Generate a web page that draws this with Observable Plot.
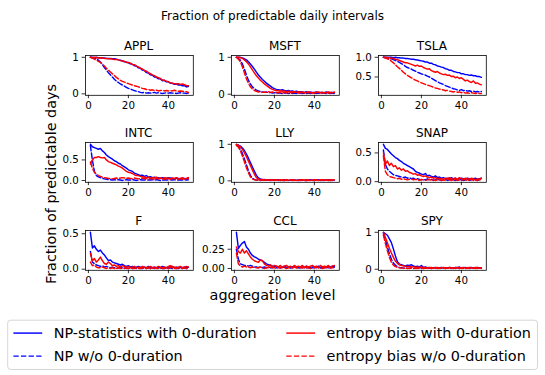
<!DOCTYPE html>
<html><head><meta charset="utf-8">
<script src="https://cdn.jsdelivr.net/npm/d3@7"></script>
<script src="https://cdn.jsdelivr.net/npm/@observablehq/plot@0.6"></script>
<style>
html,body{margin:0;padding:0;background:#fff;}
#fig{position:relative;width:545px;height:375px;overflow:hidden;font-family:"DejaVu Sans",sans-serif;}
.panel{position:absolute;}
#overlay{position:absolute;left:0;top:0;}
</style></head><body><div id="fig"></div>
<script>
// ---------------- data ----------------
const levels = [1,2,3,4,5,6,7,8,9,10,11,12,13,14,15,16,17,18,19,20,21,22,23,24,25,26,27,28,29,30,31,32,33,34,35,36,37,38,39,40,41,42,43,44,45,46,47,48,49,50];
const tickers = ["APPL","MSFT","TSLA","INTC","LLY","SNAP","F","CCL","SPY"];
const seriesNames = ["NP-statistics with 0-duration","NP w/o 0-duration","entropy bias with 0-duration","entropy bias w/o 0-duration"];
const xTickValues = [0,20,40];
const yTickValues = [[0,1],[0,1],[0.5,1.0],[0,0.5],[0,1],[0,0.5],[0,0.5],[0,0.25],[0,1]];
const yTickFormats = [".0f",".0f",".1f",".1f",".0f",".1f",".1f",".2f",".0f"];
const title = "Fraction of predictable daily intervals";
const xLabel = "aggregation level";
const yLabel = "Fraction of predictable days";

const APPL_np  = [1.00,1.00,0.99,1.00,0.99,0.99,0.98,0.98,0.97,0.97,0.97,0.96,0.96,0.95,0.93,0.92,0.90,0.88,0.87,0.85,0.82,0.81,0.77,0.76,0.71,0.70,0.65,0.64,0.58,0.57,0.52,0.51,0.46,0.45,0.41,0.41,0.36,0.37,0.33,0.33,0.29,0.29,0.26,0.27,0.24,0.25,0.22,0.23,0.19,0.20];
const APPL_np0 = [1.00,0.99,0.98,0.95,0.92,0.87,0.80,0.72,0.65,0.58,0.52,0.46,0.40,0.35,0.31,0.27,0.24,0.21,0.18,0.15,0.13,0.11,0.09,0.07,0.06,0.04,0.03,0.04,0.02,0.03,0.02,0.03,0.04,0.02,0.03,0.02,0.01,0.02,0.03,0.02,0.03,0.02,0.02,0.01,0.02,0.03,0.02,0.02,0.01,0.02];
const APPL_eb  = [1.00,0.99,1.00,0.99,0.98,0.99,0.98,0.97,0.97,0.96,0.96,0.95,0.94,0.94,0.93,0.91,0.90,0.89,0.86,0.86,0.84,0.80,0.80,0.76,0.74,0.70,0.68,0.64,0.62,0.58,0.55,0.52,0.50,0.46,0.44,0.42,0.38,0.37,0.35,0.33,0.30,0.29,0.28,0.27,0.28,0.26,0.27,0.25,0.23,0.22];
const APPL_eb0 = [1.00,0.98,0.95,0.92,0.89,0.86,0.81,0.76,0.70,0.65,0.60,0.55,0.50,0.45,0.41,0.37,0.34,0.32,0.30,0.28,0.26,0.24,0.22,0.21,0.19,0.17,0.15,0.14,0.12,0.12,0.10,0.11,0.09,0.10,0.08,0.09,0.10,0.08,0.09,0.08,0.09,0.08,0.10,0.08,0.07,0.08,0.07,0.06,0.06,0.04];

const MSFT_np  = [1.00,1.00,1.00,0.98,0.96,0.93,0.88,0.82,0.75,0.68,0.60,0.52,0.46,0.40,0.35,0.30,0.26,0.22,0.18,0.15,0.13,0.12,0.11,0.12,0.10,0.09,0.10,0.08,0.09,0.07,0.08,0.06,0.07,0.06,0.05,0.07,0.05,0.06,0.04,0.05,0.06,0.04,0.05,0.05,0.04,0.06,0.05,0.04,0.05,0.04];
const MSFT_np0 = [1.00,0.97,0.92,0.82,0.68,0.52,0.38,0.28,0.20,0.15,0.11,0.09,0.07,0.06,0.05,0.06,0.04,0.05,0.03,0.04,0.03,0.04,0.03,0.02,0.03,0.04,0.02,0.03,0.02,0.03,0.02,0.03,0.04,0.02,0.03,0.02,0.03,0.02,0.04,0.03,0.02,0.03,0.02,0.04,0.03,0.02,0.03,0.02,0.03,0.02];
const MSFT_eb  = [1.00,1.00,0.99,0.97,0.93,0.88,0.82,0.74,0.66,0.58,0.50,0.44,0.38,0.33,0.28,0.24,0.20,0.16,0.13,0.11,0.10,0.09,0.10,0.08,0.09,0.07,0.08,0.06,0.07,0.06,0.05,0.07,0.05,0.06,0.04,0.05,0.06,0.04,0.05,0.04,0.05,0.06,0.04,0.05,0.04,0.05,0.03,0.05,0.04,0.05];
const MSFT_eb0 = [1.00,0.95,0.88,0.74,0.58,0.42,0.30,0.20,0.14,0.10,0.08,0.06,0.07,0.05,0.06,0.05,0.07,0.05,0.06,0.04,0.05,0.04,0.06,0.03,0.05,0.04,0.03,0.05,0.04,0.06,0.04,0.03,0.05,0.04,0.03,0.05,0.04,0.06,0.03,0.04,0.05,0.03,0.04,0.05,0.03,0.04,0.06,0.04,0.05,0.06];

const TSLA_np  = [1.00,1.00,1.00,1.00,1.00,0.99,1.00,0.99,0.99,0.98,0.98,0.97,0.97,0.96,0.95,0.95,0.94,0.93,0.92,0.91,0.90,0.88,0.88,0.85,0.85,0.82,0.81,0.78,0.77,0.75,0.74,0.71,0.70,0.67,0.67,0.64,0.63,0.61,0.61,0.58,0.58,0.56,0.56,0.54,0.55,0.53,0.53,0.51,0.51,0.49];
const TSLA_np0 = [1.00,0.99,0.98,0.97,0.96,0.94,0.92,0.90,0.87,0.84,0.81,0.77,0.74,0.72,0.70,0.67,0.65,0.62,0.60,0.58,0.56,0.55,0.52,0.50,0.47,0.44,0.41,0.38,0.35,0.33,0.31,0.28,0.26,0.24,0.22,0.20,0.19,0.17,0.16,0.18,0.15,0.16,0.14,0.15,0.13,0.14,0.12,0.13,0.12,0.13];
const TSLA_eb  = [1.00,1.00,0.99,0.99,0.98,0.97,0.95,0.94,0.92,0.90,0.88,0.86,0.86,0.84,0.82,0.80,0.78,0.80,0.77,0.78,0.74,0.72,0.70,0.71,0.66,0.64,0.62,0.64,0.60,0.58,0.56,0.57,0.54,0.55,0.51,0.52,0.48,0.50,0.46,0.48,0.44,0.40,0.42,0.38,0.36,0.40,0.34,0.35,0.32,0.30];
const TSLA_eb0 = [1.00,0.98,0.96,0.94,0.90,0.86,0.81,0.76,0.72,0.67,0.62,0.58,0.54,0.51,0.48,0.45,0.42,0.40,0.37,0.35,0.33,0.31,0.29,0.28,0.26,0.24,0.22,0.21,0.19,0.18,0.17,0.15,0.16,0.14,0.13,0.12,0.13,0.11,0.12,0.10,0.11,0.09,0.10,0.08,0.10,0.09,0.08,0.09,0.08,0.08];

const INTC_np  = [0.88,0.82,0.80,0.78,0.76,0.78,0.72,0.68,0.62,0.58,0.55,0.52,0.48,0.46,0.42,0.40,0.36,0.33,0.30,0.26,0.24,0.22,0.18,0.16,0.14,0.12,0.13,0.10,0.12,0.08,0.09,0.07,0.08,0.06,0.07,0.05,0.07,0.06,0.05,0.07,0.06,0.05,0.04,0.06,0.05,0.04,0.06,0.05,0.04,0.06];
const INTC_np0 = [0.85,0.50,0.22,0.12,0.09,0.07,0.05,0.04,0.03,0.02,0.02,0.01,0.02,0.01,0.02,0.01,0.00,0.01,0.02,0.01,0.01,0.02,0.01,0.00,0.01,0.02,0.01,0.01,0.02,0.01,0.01,0.02,0.01,0.02,0.01,0.00,0.01,0.02,0.01,0.01,0.02,0.01,0.02,0.01,0.01,0.02,0.01,0.02,0.01,0.02];
const INTC_eb  = [0.40,0.50,0.56,0.56,0.58,0.56,0.55,0.56,0.50,0.46,0.44,0.42,0.40,0.38,0.35,0.33,0.30,0.26,0.22,0.20,0.19,0.17,0.14,0.12,0.12,0.10,0.09,0.08,0.06,0.08,0.05,0.07,0.06,0.08,0.05,0.06,0.04,0.07,0.05,0.06,0.04,0.06,0.05,0.07,0.04,0.05,0.06,0.04,0.05,0.07];
const INTC_eb0 = [0.45,0.30,0.20,0.15,0.12,0.10,0.08,0.07,0.06,0.05,0.05,0.04,0.05,0.06,0.05,0.06,0.07,0.06,0.05,0.06,0.05,0.04,0.06,0.05,0.04,0.05,0.06,0.04,0.05,0.03,0.05,0.04,0.03,0.05,0.04,0.06,0.04,0.03,0.05,0.04,0.03,0.05,0.04,0.03,0.04,0.05,0.03,0.04,0.05,0.04];

const LLY_np  = [1.00,0.98,0.95,0.90,0.83,0.73,0.62,0.50,0.38,0.26,0.15,0.08,0.05,0.03,0.04,0.02,0.03,0.02,0.03,0.02,0.02,0.03,0.01,0.02,0.03,0.02,0.01,0.02,0.03,0.02,0.02,0.01,0.03,0.02,0.02,0.01,0.02,0.03,0.02,0.01,0.02,0.03,0.02,0.01,0.02,0.02,0.03,0.01,0.02,0.02];
const LLY_np0 = [0.98,0.94,0.86,0.75,0.60,0.44,0.28,0.15,0.07,0.04,0.02,0.03,0.01,0.02,0.02,0.01,0.02,0.01,0.02,0.01,0.02,0.01,0.02,0.01,0.01,0.02,0.01,0.02,0.01,0.02,0.01,0.02,0.01,0.02,0.01,0.01,0.02,0.01,0.02,0.01,0.02,0.01,0.01,0.02,0.01,0.02,0.01,0.02,0.01,0.02];
const LLY_eb  = [1.00,0.97,0.93,0.86,0.77,0.66,0.54,0.42,0.30,0.18,0.09,0.05,0.03,0.04,0.02,0.03,0.02,0.03,0.02,0.03,0.02,0.02,0.03,0.02,0.01,0.03,0.02,0.02,0.03,0.02,0.01,0.02,0.03,0.02,0.02,0.03,0.01,0.02,0.02,0.03,0.02,0.01,0.03,0.02,0.02,0.03,0.02,0.01,0.02,0.03];
const LLY_eb0 = [0.97,0.92,0.82,0.68,0.52,0.36,0.22,0.11,0.05,0.03,0.02,0.01,0.02,0.03,0.02,0.01,0.02,0.03,0.02,0.01,0.02,0.02,0.01,0.03,0.02,0.01,0.02,0.02,0.03,0.01,0.02,0.01,0.02,0.03,0.02,0.01,0.02,0.02,0.01,0.03,0.02,0.01,0.02,0.03,0.02,0.02,0.01,0.03,0.02,0.01];

const SNAP_np  = [0.65,0.58,0.56,0.52,0.48,0.45,0.42,0.40,0.37,0.35,0.32,0.30,0.28,0.26,0.24,0.22,0.18,0.16,0.15,0.13,0.12,0.14,0.10,0.11,0.09,0.08,0.10,0.07,0.08,0.06,0.07,0.05,0.06,0.05,0.07,0.05,0.06,0.04,0.05,0.06,0.05,0.04,0.06,0.05,0.04,0.05,0.06,0.04,0.05,0.06];
const SNAP_np0 = [0.55,0.30,0.22,0.18,0.15,0.12,0.11,0.10,0.09,0.08,0.07,0.08,0.06,0.07,0.05,0.06,0.04,0.05,0.04,0.03,0.04,0.03,0.05,0.03,0.04,0.02,0.03,0.04,0.03,0.02,0.03,0.04,0.02,0.03,0.04,0.03,0.02,0.03,0.04,0.03,0.02,0.03,0.04,0.02,0.03,0.04,0.03,0.02,0.03,0.05];
const SNAP_eb  = [0.50,0.30,0.36,0.28,0.32,0.26,0.28,0.22,0.24,0.20,0.22,0.18,0.19,0.16,0.15,0.13,0.14,0.11,0.12,0.10,0.09,0.10,0.08,0.07,0.08,0.06,0.07,0.05,0.06,0.05,0.04,0.06,0.05,0.07,0.04,0.05,0.06,0.04,0.07,0.05,0.04,0.06,0.05,0.04,0.06,0.05,0.03,0.05,0.04,0.06];
const SNAP_eb0 = [0.45,0.18,0.12,0.09,0.08,0.07,0.06,0.05,0.06,0.04,0.05,0.04,0.03,0.04,0.05,0.03,0.04,0.03,0.02,0.04,0.03,0.02,0.03,0.04,0.02,0.03,0.02,0.03,0.04,0.02,0.03,0.02,0.04,0.03,0.02,0.03,0.04,0.02,0.03,0.02,0.04,0.03,0.02,0.03,0.04,0.02,0.03,0.02,0.04,0.03];

const F_np  = [0.52,0.30,0.33,0.28,0.25,0.27,0.23,0.20,0.16,0.12,0.13,0.10,0.09,0.08,0.07,0.06,0.07,0.05,0.04,0.05,0.03,0.04,0.02,0.03,0.04,0.03,0.02,0.03,0.02,0.04,0.03,0.02,0.03,0.02,0.03,0.02,0.04,0.03,0.02,0.03,0.04,0.03,0.02,0.03,0.02,0.03,0.02,0.03,0.02,0.03];
const F_np0 = [0.25,0.10,0.08,0.06,0.05,0.04,0.05,0.03,0.04,0.03,0.02,0.03,0.02,0.01,0.02,0.03,0.02,0.01,0.02,0.01,0.02,0.01,0.02,0.01,0.02,0.01,0.01,0.02,0.01,0.02,0.01,0.02,0.01,0.02,0.01,0.02,0.01,0.01,0.02,0.01,0.02,0.01,0.02,0.01,0.01,0.02,0.01,0.02,0.01,0.01];
const F_eb  = [0.22,0.12,0.15,0.10,0.13,0.17,0.12,0.08,0.07,0.10,0.08,0.05,0.06,0.04,0.05,0.03,0.05,0.04,0.03,0.04,0.02,0.03,0.04,0.02,0.03,0.02,0.04,0.03,0.02,0.03,0.04,0.02,0.03,0.02,0.04,0.03,0.02,0.03,0.02,0.04,0.05,0.04,0.03,0.02,0.03,0.04,0.02,0.03,0.04,0.03];
const F_eb0 = [0.10,0.05,0.06,0.03,0.02,0.02,0.03,0.02,0.01,0.02,0.01,0.02,0.01,0.01,0.02,0.01,0.01,0.02,0.01,0.01,0.02,0.01,0.01,0.02,0.01,0.01,0.02,0.01,0.01,0.02,0.01,0.01,0.02,0.01,0.01,0.02,0.01,0.01,0.02,0.01,0.03,0.02,0.01,0.01,0.02,0.01,0.01,0.02,0.01,0.01];

const CCL_np  = [0.47,0.26,0.30,0.33,0.35,0.28,0.25,0.20,0.17,0.15,0.14,0.12,0.11,0.10,0.08,0.06,0.05,0.04,0.03,0.02,0.03,0.02,0.01,0.02,0.03,0.01,0.02,0.01,0.02,0.03,0.01,0.02,0.01,0.02,0.01,0.03,0.02,0.01,0.02,0.01,0.02,0.03,0.01,0.02,0.01,0.02,0.01,0.02,0.03,0.02];
const CCL_np0 = [0.25,0.12,0.06,0.05,0.04,0.04,0.03,0.04,0.03,0.02,0.02,0.01,0.02,0.01,0.02,0.01,0.02,0.01,0.01,0.02,0.01,0.02,0.01,0.01,0.02,0.01,0.02,0.01,0.01,0.02,0.01,0.01,0.02,0.01,0.02,0.01,0.01,0.02,0.01,0.02,0.01,0.02,0.01,0.01,0.02,0.01,0.02,0.01,0.01,0.02];
const CCL_eb  = [0.28,0.22,0.20,0.25,0.20,0.23,0.19,0.15,0.12,0.10,0.09,0.08,0.11,0.10,0.06,0.04,0.03,0.05,0.02,0.04,0.03,0.02,0.04,0.01,0.03,0.04,0.02,0.03,0.01,0.04,0.02,0.03,0.02,0.04,0.01,0.03,0.02,0.03,0.04,0.02,0.03,0.01,0.04,0.02,0.03,0.02,0.04,0.01,0.03,0.04];
const CCL_eb0 = [0.20,0.06,0.03,0.02,0.03,0.02,0.02,0.01,0.02,0.01,0.01,0.01,0.02,0.01,0.00,0.01,0.01,0.02,0.01,0.01,0.00,0.01,0.01,0.02,0.01,0.00,0.01,0.01,0.01,0.02,0.01,0.00,0.01,0.01,0.02,0.01,0.01,0.00,0.01,0.01,0.02,0.01,0.01,0.00,0.01,0.01,0.02,0.01,0.01,0.01];

const SPY_np  = [1.00,0.96,0.92,0.82,0.72,0.55,0.36,0.20,0.14,0.12,0.10,0.09,0.11,0.10,0.12,0.09,0.07,0.08,0.06,0.10,0.05,0.06,0.04,0.05,0.03,0.04,0.05,0.03,0.04,0.05,0.03,0.04,0.03,0.05,0.04,0.03,0.05,0.04,0.06,0.03,0.04,0.05,0.03,0.04,0.05,0.03,0.04,0.05,0.04,0.03];
const SPY_np0 = [0.96,0.80,0.60,0.42,0.27,0.17,0.11,0.07,0.05,0.04,0.03,0.04,0.02,0.03,0.04,0.02,0.03,0.02,0.04,0.03,0.02,0.03,0.02,0.03,0.02,0.04,0.03,0.02,0.03,0.02,0.03,0.02,0.04,0.03,0.02,0.03,0.02,0.03,0.02,0.04,0.03,0.02,0.03,0.02,0.03,0.04,0.02,0.03,0.02,0.03];
const SPY_eb  = [1.00,0.86,0.72,0.57,0.44,0.32,0.22,0.16,0.12,0.10,0.09,0.08,0.07,0.08,0.06,0.07,0.05,0.06,0.05,0.06,0.04,0.05,0.03,0.04,0.05,0.03,0.04,0.05,0.03,0.04,0.05,0.04,0.03,0.05,0.04,0.03,0.04,0.05,0.03,0.04,0.05,0.03,0.04,0.05,0.04,0.03,0.05,0.04,0.03,0.04];
const SPY_eb0 = [0.92,0.70,0.50,0.32,0.19,0.11,0.07,0.05,0.04,0.03,0.03,0.02,0.03,0.02,0.04,0.03,0.02,0.03,0.02,0.03,0.02,0.03,0.02,0.04,0.02,0.03,0.02,0.03,0.02,0.03,0.04,0.02,0.03,0.02,0.03,0.02,0.03,0.04,0.02,0.03,0.02,0.03,0.02,0.03,0.04,0.02,0.03,0.02,0.03,0.02];

const panelSeries = [
  [APPL_np, APPL_np0, APPL_eb, APPL_eb0],
  [MSFT_np, MSFT_np0, MSFT_eb, MSFT_eb0],
  [TSLA_np, TSLA_np0, TSLA_eb, TSLA_eb0],
  [INTC_np, INTC_np0, INTC_eb, INTC_eb0],
  [LLY_np, LLY_np0, LLY_eb, LLY_eb0],
  [SNAP_np, SNAP_np0, SNAP_eb, SNAP_eb0],
  [F_np, F_np0, F_eb, F_eb0],
  [CCL_np, CCL_np0, CCL_eb, CCL_eb0],
  [SPY_np, SPY_np0, SPY_eb, SPY_eb0]
];

// ---------------- styles / layout ----------------
const colors = ["#0000ff","#0000ff","#ff0000","#ff0000"];
const dashes = [null,"5.3,2.3",null,"5.3,2.3"];
const FONT = "DejaVu Sans";
const colX = [84.7, 231, 378];
const rowY = [55, 142.4, 229.6];
const FW = 107.8, FH = 39.8;
const ML = 40, MR = 6, MT = 4, MB = 22;

const fig = document.getElementById("fig");

panelSeries.forEach((series, p) => {
  const rows = [];
  series.forEach((vals, s) => vals.forEach((v, i) => rows.push({x: levels[i], y: v, s})));
  const xr = d3.extent(levels), xm = 0.05 * (xr[1] - xr[0]);
  const yr = d3.extent(rows, d => d.y), ym = 0.05 * (yr[1] - yr[0]);
  const fmt = d3.format(yTickFormats[p]);
  const chart = Plot.plot({
    width: ML + FW + MR, height: MT + FH + MB,
    marginLeft: ML, marginRight: MR, marginTop: MT, marginBottom: MB,
    style: {fontFamily: FONT, fontSize: "10.3px", color: "black", background: "transparent", overflow: "visible"},
    x: {domain: [xr[0] - xm, xr[1] + xm]},
    y: {domain: [yr[0] - ym, yr[1] + ym]},
    marks: [
      ...series.map((vals, s) => Plot.lineY(rows.filter(d => d.s === s), {
        x: "x", y: "y", stroke: colors[s], strokeWidth: 1.45,
        strokeDasharray: dashes[s] || undefined, clip: true
      })),
      Plot.frame({stroke: "black", strokeWidth: 0.8}),
      Plot.axisX({ticks: xTickValues, tickSize: 3.4, tickPadding: 3.3, strokeWidth: 0.8, label: null, tickFormat: d3.format("d")}),
      Plot.axisY({ticks: yTickValues[p], tickSize: 3.4, tickPadding: 3.3, strokeWidth: 0.8, label: null, tickFormat: fmt})
    ]
  });
  const c = p % 3, r = Math.floor(p / 3);
  const wrap = document.createElement("div");
  wrap.className = "panel";
  wrap.style.left = (colX[c] - ML) + "px";
  wrap.style.top = (rowY[r] - MT) + "px";
  wrap.appendChild(chart);
  fig.appendChild(wrap);
});

// ---------------- text + legend overlay ----------------
const svg = d3.select(fig).append("svg").attr("id", "overlay")
  .attr("width", 545).attr("height", 375)
  .style("font-family", FONT).style("pointer-events", "none");

svg.append("text").attr("x", 272.5).attr("y", 19.5).attr("text-anchor", "middle")
  .attr("font-size", 12).text(title);

tickers.forEach((t, p) => {
  const c = p % 3, r = Math.floor(p / 3);
  svg.append("text").attr("x", colX[c] + FW / 2).attr("y", rowY[r] - 5)
    .attr("text-anchor", "middle").attr("font-size", 12).text(t);
});

svg.append("text").attr("x", 272.5).attr("y", 299.5).attr("text-anchor", "middle")
  .attr("font-size", 14.4).text(xLabel);
svg.append("text").attr("transform", "translate(55.5,184) rotate(-90)").attr("text-anchor", "middle")
  .attr("font-size", 14.4).text(yLabel);

const lg = svg.append("g");
lg.append("rect").attr("x", 7.7).attr("y", 320.2).attr("width", 529.8).attr("height", 49.3)
  .attr("rx", 3).attr("fill", "white").attr("stroke", "#cccccc").attr("stroke-width", 0.8);
const legX = [13.4, 286.3], legY = [333.1, 356.1];
seriesNames.forEach((name, s) => {
  const col = s < 2 ? 0 : 1, row = s % 2;
  lg.append("line").attr("x1", legX[col]).attr("x2", legX[col] + 28.8)
    .attr("y1", legY[row]).attr("y2", legY[row])
    .attr("stroke", colors[s]).attr("stroke-width", 1.45)
    .attr("stroke-dasharray", dashes[s]);
  lg.append("text").attr("x", legX[col] + 40.3).attr("y", legY[row] + 5.2)
    .attr("font-size", 14.4).text(name);
});
</script></body></html>
